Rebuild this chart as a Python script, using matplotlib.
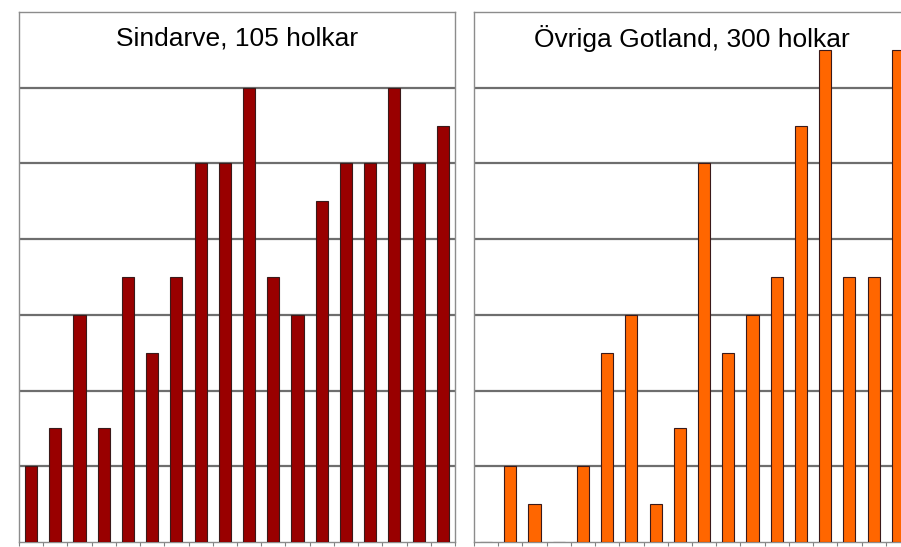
import matplotlib
matplotlib.use("Agg")
import matplotlib.pyplot as plt
import numpy as np

# values in grid units (gridlines every 1 unit, no labels shown)
sindarve = [1, 1.5, 3, 1.5, 3.5, 2.5, 3.5, 5, 5, 6, 3.5, 3, 4.5, 5, 5, 6, 5, 5.5]
gotland = [0, 1, 0.5, 0, 1, 2.5, 3, 0.5, 1.5, 5, 2.5, 3, 3.5, 5.5, 6.5, 3.5, 3.5, 6.5]
titles = ["Sindarve, 105 holkar", "Övriga Gotland, 300 holkar"]
colors = ["#990000", "#ff6600"]

plt.rcParams["font.family"] = ["Liberation Sans", "DejaVu Sans"]

W, H = 901, 547
fig = plt.figure(figsize=(W / 100, H / 100), dpi=100)
fig.patch.set_facecolor("white")

# axes positions in pixels: left, bottom(from top), right
boxes = [(19, 542, 455), (474, 542, 910)]
top_px = 12

for (x0, yb, x1), vals, title, col in zip(boxes, [sindarve, gotland], titles, colors):
    ax = fig.add_axes([x0 / W, (H - yb) / H, (x1 - x0) / W, (yb - top_px) / H])
    x = np.arange(len(vals))
    ax.bar(x, vals, width=0.5, color=col, edgecolor="#3a1a1a", linewidth=0.8, zorder=3)
    ax.set_xlim(-0.5, len(vals) - 0.5)
    ax.set_ylim(0, 7)
    ax.set_yticks(range(1, 7))
    ax.yaxis.grid(True, color="#6e6e6e", linewidth=1.6, zorder=1)
    ax.set_axisbelow(True)
    ax.tick_params(axis="y", length=0, labelleft=False)
    ax.set_xticks([])
    ax.set_xticks(np.arange(-0.5, len(vals) + 0.5, 1), minor=True)
    ax.tick_params(axis="x", which="minor", length=3, width=0.8, color="#808080",
                   direction="out", labelbottom=False)
    for s in ax.spines.values():
        s.set_color("#8c8c8c")
        s.set_linewidth(1.0)
    ax.text(0.5, 0.95, title, transform=ax.transAxes, ha="center", va="center",
            fontsize=19, color="black", zorder=5)

fig.savefig("out.png", dpi=100)
